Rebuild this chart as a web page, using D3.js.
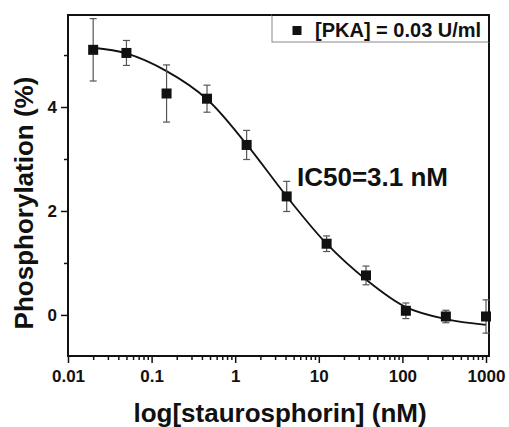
<!DOCTYPE html>
<html>
<head>
<meta charset="utf-8">
<script src="https://cdn.jsdelivr.net/npm/d3@7"></script>
<style>
  body { margin: 0; background: #fff; }
  text { font-family: "Liberation Sans", Arial, sans-serif; font-weight: bold; fill: #111; }
</style>
</head>
<body>
<script>
// measured points (staurosporine concentration in nM)
var conc = [0.02, 0.05, 0.151, 0.46, 1.37, 4.13, 12.4, 36.7, 110, 331, 1000];
var phos = [5.10, 5.04, 4.26, 4.16, 3.27, 2.28, 1.37, 0.76, 0.08, -0.03, -0.03];
var errs = [0.60, 0.24, 0.55, 0.26, 0.28, 0.29, 0.15, 0.18, 0.15, 0.12, 0.32];

// fitted curve
var fitConc = [0.02, 0.05, 0.151, 0.46, 1.37, 4.13, 12.4, 36.7, 110, 331, 1000];
var fitPhos = [5.14, 5.03, 4.69, 4.15, 3.28, 2.28, 1.37, 0.68, 0.15, -0.08, -0.19];

var xMajor = [0.01, 0.1, 1, 10, 100, 1000];
var xMajorLabels = ["0.01", "0.1", "1", "10", "100", "1000"];
var yMajor = [0, 2, 4];
var yMinor = [1, 3, 5];

var width = 509, height = 427;
var pLeft = 68, pRight = 489, pTop = 15, pBottom = 356;

var svg = d3.select("body").append("svg")
    .attr("width", width)
    .attr("height", height);

svg.append("rect").attr("width", width).attr("height", height).attr("fill", "#fff");

// scales
var x = d3.scaleLog()
    .domain([0.01, 1000 * Math.pow(10, 3 / 83.6)])
    .range([pLeft, pRight]);
var y = d3.scaleLinear()
    .domain([-0.79, 5.77])
    .range([pBottom, pTop]);

// minor x ticks: 2..9 in each decade
var xMinor = [];
xMajor.slice(0, -1).forEach(function(d) {
  for (var k = 2; k < 10; k++) xMinor.push(d * k);
});

// x axis
var xAxis = svg.append("g")
    .attr("transform", "translate(0," + pBottom + ")")
    .call(d3.axisBottom(x).tickValues(xMajor)
        .tickFormat(function(d, i) { return xMajorLabels[i]; })
        .tickSize(7).tickPadding(7).tickSizeOuter(0));
xAxis.selectAll("text").style("font-size", "17px");
svg.append("g")
    .attr("transform", "translate(0," + pBottom + ")")
    .call(d3.axisBottom(x).tickValues(xMinor).tickFormat("").tickSize(4).tickSizeOuter(0));

// y axis
var yAxis = svg.append("g")
    .attr("transform", "translate(" + pLeft + ",0)")
    .call(d3.axisLeft(y).tickValues(yMajor).tickFormat(d3.format("d"))
        .tickSize(7).tickPadding(4).tickSizeOuter(0));
yAxis.selectAll("text").style("font-size", "17px");
svg.append("g")
    .attr("transform", "translate(" + pLeft + ",0)")
    .call(d3.axisLeft(y).tickValues(yMinor).tickFormat("").tickSize(4).tickSizeOuter(0));

svg.selectAll(".tick line").attr("stroke", "#111").attr("stroke-width", 1.5);
svg.selectAll(".domain").remove();

// frame
svg.append("rect")
    .attr("x", pLeft).attr("y", pTop)
    .attr("width", pRight - pLeft).attr("height", pBottom - pTop)
    .attr("fill", "none")
    .attr("stroke", "#111")
    .attr("stroke-width", 2);

// fitted curve
var line = d3.line()
    .x(function(d, i) { return x(fitConc[i]); })
    .y(function(d) { return y(d); })
    .curve(d3.curveCatmullRom.alpha(0.5));
svg.append("path")
    .datum(fitPhos)
    .attr("d", line)
    .attr("fill", "none")
    .attr("stroke", "#111")
    .attr("stroke-width", 1.8);

// error bars
var eb = svg.append("g").attr("stroke", "#555").attr("stroke-width", 1.2);
phos.forEach(function(v, i) {
  var cx = x(conc[i]);
  var y1 = y(v + errs[i]), y2 = y(v - errs[i]);
  eb.append("line").attr("x1", cx).attr("x2", cx).attr("y1", y1).attr("y2", y2);
  eb.append("line").attr("x1", cx - 3.5).attr("x2", cx + 3.5).attr("y1", y1).attr("y2", y1);
  eb.append("line").attr("x1", cx - 3.5).attr("x2", cx + 3.5).attr("y1", y2).attr("y2", y2);
});

// markers
svg.selectAll(".pt")
    .data(phos)
    .enter()
    .append("rect")
    .attr("class", "pt")
    .attr("x", function(d, i) { return x(conc[i]) - 5; })
    .attr("y", function(d) { return y(d) - 5; })
    .attr("width", 10)
    .attr("height", 10)
    .attr("fill", "#111");

// legend
var legLeft = 272, legH = 27;
svg.append("rect")
    .attr("x", legLeft).attr("y", pTop)
    .attr("width", pRight - legLeft).attr("height", legH)
    .attr("fill", "#fff")
    .attr("stroke", "#888")
    .attr("stroke-width", 1);
svg.append("line")
    .attr("x1", legLeft).attr("x2", pRight).attr("y1", pTop).attr("y2", pTop)
    .attr("stroke", "#111").attr("stroke-width", 2);
svg.append("line")
    .attr("x1", pRight).attr("x2", pRight).attr("y1", pTop).attr("y2", pTop + legH)
    .attr("stroke", "#111").attr("stroke-width", 2);
svg.append("rect")
    .attr("x", 292.5).attr("y", 26).attr("width", 9).attr("height", 9)
    .attr("fill", "#111");
svg.append("text")
    .attr("x", 315).attr("y", 37)
    .style("font-size", "20px")
    .text("[PKA] = 0.03 U/ml");

// annotation
svg.append("text")
    .attr("x", 297).attr("y", 186)
    .style("font-size", "26px")
    .text("IC50=3.1 nM");

// axis titles
svg.append("text")
    .attr("x", 280).attr("y", 422)
    .attr("text-anchor", "middle")
    .style("font-size", "26px")
    .text("log[staurosphorin] (nM)");
svg.append("text")
    .attr("transform", "translate(33,203) rotate(-90)")
    .attr("text-anchor", "middle")
    .style("font-size", "26px")
    .text("Phosphorylation (%)");
</script>
</body>
</html>
